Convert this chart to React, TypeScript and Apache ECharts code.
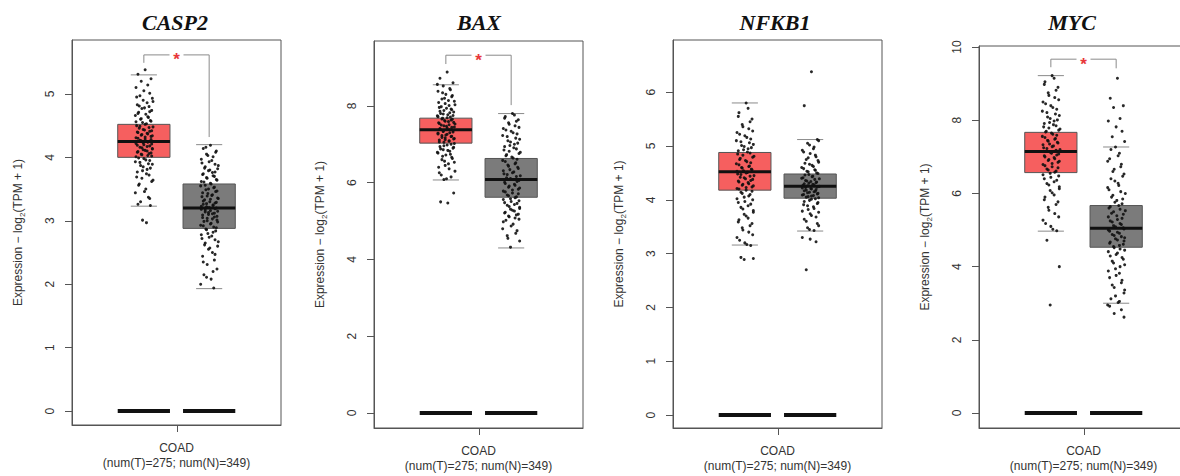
import React, { useEffect, useRef } from "react";
import * as echarts from "echarts";

// ---------- data ----------
const GENES = ["CASP2", "BAX", "NFKB1", "MYC"];
const GROUP_X = [1.1, 2.1]; // tumor, normal
const CENTER_X = 1.6;
const X_LABEL = "COAD\n(num(T)=275; num(N)=349)";
const Y_NAME = "Expression − log{sub|2}(TPM + 1)";

// [low whisker, Q1, median, Q3, high whisker]
const CASP2_T_BOX = [3.23, 4.0, 4.25, 4.52, 5.3];
const CASP2_N_BOX = [1.93, 2.88, 3.2, 3.58, 4.2];
const BAX_T_BOX = [6.07, 7.03, 7.38, 7.68, 8.55];
const BAX_N_BOX = [4.3, 5.62, 6.08, 6.63, 7.8];
const NFKB1_T_BOX = [3.16, 4.18, 4.52, 4.88, 5.8];
const NFKB1_N_BOX = [3.42, 4.03, 4.25, 4.48, 5.12];
const MYC_T_BOX = [4.97, 6.57, 7.15, 7.67, 9.22];
const MYC_N_BOX = [3.0, 4.53, 5.05, 5.67, 7.27];

// jittered sample values (read from the dot clouds)
const CASP2_T_PTS = [5.38, 5.31, 5.24, 5.2, 5.14, 5.1, 5.05, 5.01, 4.97, 4.93, 4.9, 4.86, 4.83, 4.8, 4.77, 4.74, 4.71, 4.68, 4.66, 4.63, 4.6, 4.58, 4.55, 4.53, 4.5, 4.48, 4.46, 4.43, 4.41, 4.39, 4.37, 4.35, 4.33, 4.31, 4.29, 4.27, 4.25, 4.23, 4.21, 4.19, 4.17, 4.15, 4.13, 4.11, 4.09, 4.07, 4.05, 4.03, 4.01, 3.98, 3.95, 3.92, 3.89, 3.85, 3.81, 3.77, 3.72, 3.67, 3.62, 3.56, 3.5, 3.44, 3.37, 3.3, 3.24, 3.01, 2.97,
  4.95, 4.88, 4.81, 4.78, 4.72, 4.69, 4.64, 4.61, 4.57, 4.56, 4.52, 4.49, 4.47, 4.44, 4.42, 4.4, 4.38, 4.36, 4.34, 4.32, 4.3, 4.28, 4.26, 4.24, 4.22, 4.2, 4.18, 4.16, 4.14, 4.12, 4.1, 4.08, 4.06, 4.04, 4.02, 3.99, 3.96, 3.93, 3.9, 3.87, 3.83, 3.79, 3.74, 3.69, 3.64, 3.58, 3.46, 3.35, 3.26];
const CASP2_N_PTS = [4.19, 4.14, 4.1, 4.05, 4.01, 3.97, 3.93, 3.89, 3.85, 3.82, 3.79, 3.76, 3.73, 3.7, 3.67, 3.64, 3.61, 3.58, 3.55, 3.52, 3.49, 3.46, 3.43, 3.4, 3.38, 3.35, 3.33, 3.3, 3.28, 3.26, 3.24, 3.22, 3.2, 3.18, 3.16, 3.14, 3.12, 3.1, 3.07, 3.05, 3.03, 3.0, 2.98, 2.95, 2.92, 2.89, 2.86, 2.82, 2.78, 2.74, 2.7, 2.65, 2.6, 2.55, 2.5, 2.44, 2.38, 2.31, 2.24, 2.15, 2.08, 2.0, 1.94,
  4.16, 4.08, 4.03, 3.95, 3.91, 3.87, 3.83, 3.8, 3.77, 3.74, 3.71, 3.68, 3.65, 3.62, 3.59, 3.56, 3.53, 3.5, 3.47, 3.44, 3.41, 3.39, 3.36, 3.34, 3.31, 3.29, 3.27, 3.25, 3.23, 3.21, 3.19, 3.17, 3.15, 3.13, 3.11, 3.09, 3.06, 3.04, 3.01, 2.99, 2.96, 2.93, 2.9, 2.87, 2.84, 2.8, 2.76, 2.72, 2.67, 2.62, 2.57, 2.47, 2.35, 2.2, 2.11];
const BAX_T_PTS = [8.88, 8.72, 8.6, 8.52, 8.45, 8.38, 8.3, 8.24, 8.18, 8.12, 8.06, 8.01, 7.96, 7.92, 7.88, 7.84, 7.8, 7.77, 7.74, 7.71, 7.68, 7.65, 7.62, 7.59, 7.56, 7.53, 7.5, 7.47, 7.44, 7.41, 7.38, 7.35, 7.32, 7.29, 7.26, 7.23, 7.2, 7.17, 7.14, 7.11, 7.08, 7.05, 7.02, 6.98, 6.94, 6.9, 6.86, 6.82, 6.77, 6.72, 6.66, 6.6, 6.53, 6.45, 6.36, 6.26, 6.15, 6.08, 5.73, 5.5, 5.47,
  8.56, 8.42, 8.34, 8.27, 8.2, 8.14, 8.09, 8.03, 7.98, 7.94, 7.9, 7.86, 7.82, 7.79, 7.75, 7.72, 7.69, 7.66, 7.63, 7.6, 7.57, 7.54, 7.51, 7.48, 7.45, 7.42, 7.39, 7.36, 7.33, 7.3, 7.27, 7.24, 7.21, 7.18, 7.15, 7.12, 7.09, 7.06, 7.0, 6.96, 6.92, 6.88, 6.84, 6.79, 6.74, 6.69, 6.63, 6.56, 6.49, 6.4, 6.3, 6.2, 6.1];
const BAX_N_PTS = [7.8, 7.72, 7.64, 7.56, 7.48, 7.41, 7.34, 7.27, 7.2, 7.13, 7.06, 7.0, 6.94, 6.88, 6.82, 6.76, 6.7, 6.64, 6.58, 6.52, 6.46, 6.4, 6.34, 6.28, 6.23, 6.18, 6.13, 6.08, 6.03, 5.98, 5.93, 5.88, 5.83, 5.78, 5.73, 5.68, 5.63, 5.58, 5.53, 5.48, 5.43, 5.38, 5.33, 5.28, 5.23, 5.18, 5.13, 5.08, 4.98, 4.87, 4.75, 4.62, 4.48, 4.32,
  7.76, 7.68, 7.6, 7.52, 7.44, 7.37, 7.3, 7.23, 7.16, 7.09, 7.03, 6.97, 6.91, 6.85, 6.79, 6.73, 6.67, 6.61, 6.55, 6.49, 6.43, 6.37, 6.31, 6.26, 6.21, 6.16, 6.11, 6.06, 6.01, 5.96, 5.91, 5.86, 5.81, 5.76, 5.71, 5.66, 5.61, 5.56, 5.51, 5.46, 5.41, 5.36, 5.31, 5.26, 5.21, 5.16, 5.11, 5.05, 5.02, 4.92, 4.8, 4.68, 4.55];
const NFKB1_T_PTS = [5.8, 5.62, 5.5, 5.4, 5.32, 5.25, 5.19, 5.13, 5.08, 5.03, 4.99, 4.95, 4.91, 4.87, 4.83, 4.79, 4.75, 4.71, 4.67, 4.63, 4.6, 4.57, 4.54, 4.51, 4.48, 4.45, 4.42, 4.39, 4.36, 4.33, 4.3, 4.27, 4.24, 4.21, 4.18, 4.14, 4.1, 4.05, 4.0, 3.95, 3.89, 3.83, 3.77, 3.7, 3.63, 3.56, 3.48, 3.4, 3.3, 3.2, 3.15, 2.93, 2.91, 2.89,
  5.7, 5.55, 5.45, 5.36, 5.28, 5.22, 5.16, 5.1, 5.06, 5.01, 4.97, 4.93, 4.89, 4.85, 4.81, 4.77, 4.73, 4.69, 4.65, 4.62, 4.59, 4.56, 4.53, 4.5, 4.47, 4.44, 4.41, 4.38, 4.35, 4.32, 4.29, 4.26, 4.23, 4.2, 4.16, 4.12, 4.07, 4.02, 3.97, 3.92, 3.86, 3.8, 3.73, 3.66, 3.59, 3.52, 3.44, 3.35, 3.25, 3.17];
const NFKB1_N_PTS = [6.38, 5.75, 5.12, 5.05, 4.98, 4.92, 4.86, 4.8, 4.75, 4.7, 4.66, 4.62, 4.58, 4.55, 4.52, 4.49, 4.46, 4.43, 4.4, 4.38, 4.35, 4.33, 4.31, 4.29, 4.27, 4.25, 4.23, 4.21, 4.19, 4.17, 4.15, 4.13, 4.11, 4.09, 4.07, 4.05, 4.02, 3.99, 3.95, 3.91, 3.87, 3.82, 3.77, 3.71, 3.64, 3.56, 3.48, 3.43, 3.3, 3.27, 3.22, 2.7,
  5.1, 5.02, 4.95, 4.89, 4.83, 4.78, 4.73, 4.68, 4.64, 4.6, 4.56, 4.53, 4.5, 4.47, 4.44, 4.41, 4.39, 4.36, 4.34, 4.32, 4.3, 4.28, 4.26, 4.24, 4.22, 4.2, 4.18, 4.16, 4.14, 4.12, 4.1, 4.08, 4.06, 4.04, 4.01, 3.97, 3.93, 3.89, 3.84, 3.79, 3.74, 3.68, 3.6, 3.52, 3.45];
const MYC_T_PTS = [9.22, 9.05, 8.9, 8.75, 8.62, 8.5, 8.4, 8.3, 8.21, 8.13, 8.05, 7.98, 7.91, 7.85, 7.79, 7.73, 7.68, 7.62, 7.56, 7.5, 7.45, 7.4, 7.35, 7.3, 7.25, 7.2, 7.15, 7.1, 7.05, 7.0, 6.95, 6.9, 6.85, 6.79, 6.73, 6.67, 6.61, 6.55, 6.48, 6.4, 6.32, 6.23, 6.13, 6.02, 5.9, 5.77, 5.62, 5.45, 5.27, 5.1, 4.98, 4.72, 4.0, 2.95,
  9.15, 8.98, 8.82, 8.68, 8.56, 8.45, 8.35, 8.25, 8.17, 8.09, 8.01, 7.94, 7.88, 7.82, 7.76, 7.7, 7.65, 7.59, 7.53, 7.48, 7.43, 7.38, 7.33, 7.28, 7.23, 7.18, 7.13, 7.08, 7.03, 6.98, 6.93, 6.88, 6.82, 6.76, 6.7, 6.64, 6.58, 6.51, 6.44, 6.36, 6.27, 6.18, 6.08, 5.96, 5.83, 5.7, 5.54, 5.36, 5.18, 5.02];
const MYC_N_PTS = [9.15, 8.6, 8.4, 8.35, 8.05, 7.98, 7.82, 7.7, 7.55, 7.42, 7.27, 7.1, 6.95, 6.8, 6.66, 6.53, 6.4, 6.28, 6.16, 6.05, 5.95, 5.85, 5.76, 5.67, 5.6, 5.53, 5.46, 5.39, 5.32, 5.25, 5.18, 5.12, 5.06, 5.0, 4.94, 4.88, 4.82, 4.76, 4.7, 4.64, 4.58, 4.52, 4.45, 4.37, 4.29, 4.2, 4.1, 4.0, 3.88, 3.76, 3.63, 3.5, 3.36, 3.2, 3.05, 2.92, 2.82, 2.72, 2.62,
  7.2, 7.03, 6.88, 6.73, 6.6, 6.47, 6.34, 6.22, 6.1, 6.0, 5.9, 5.81, 5.72, 5.64, 5.57, 5.5, 5.43, 5.36, 5.29, 5.22, 5.15, 5.09, 5.03, 4.97, 4.91, 4.85, 4.79, 4.73, 4.67, 4.61, 4.55, 4.48, 4.41, 4.33, 4.25, 4.15, 4.05, 3.94, 3.82, 3.7, 3.56, 3.43, 3.28, 3.12, 3.02, 2.95];

// horizontal jitter offsets (x units)
const JITTER = [0.02, -0.09, 0.11, -0.04, 0.06, -0.12, 0.0, 0.09, -0.06, 0.13, -0.01, 0.05, -0.1, 0.08, -0.03, 0.12, -0.08, 0.03, -0.13, 0.07, -0.05, 0.1, -0.02, 0.04, -0.11, 0.14, -0.07, 0.01, 0.09, -0.09, 0.06, -0.04, 0.11, -0.12, 0.02, -0.06, 0.08, -0.01, 0.12, -0.1, 0.05, -0.03, 0.13];

const ZERO_LEVEL = [0, 0];

const Y_MIN = [-0.22, -0.39, -0.24, -0.41];
const Y_MAX = [5.85, 9.69, 6.97, 10.03];
const Y_TICKS = [
  [0, 1, 2, 3, 4, 5],
  [0, 2, 4, 6, 8],
  [0, 1, 2, 3, 4, 5, 6],
  [0, 2, 4, 6, 8, 10],
];
// significance bracket: [top, left leg end, right leg end] (null = none)
const BRACKETS: (number[] | null)[] = [
  [5.615, 5.49, 4.32],
  [9.32, 9.09, 8.02],
  null,
  [9.67, 9.45, 9.42],
];

const BOXES = [
  [CASP2_T_BOX, CASP2_N_BOX],
  [BAX_T_BOX, BAX_N_BOX],
  [NFKB1_T_BOX, NFKB1_N_BOX],
  [MYC_T_BOX, MYC_N_BOX],
];
const POINTS = [
  [CASP2_T_PTS, CASP2_N_PTS],
  [BAX_T_PTS, BAX_N_PTS],
  [NFKB1_T_PTS, NFKB1_N_PTS],
  [MYC_T_PTS, MYC_N_PTS],
];

// ---------- layout / style ----------
const GRID_LEFT = [72, 374, 673, 979];
const GRID_TOP = [40, 41, 40, 46];
const GRID_H = [385, 387, 388, 382];
const GRID_W = 209;
const TITLE_X = [175, 479, 775, 1072];
const FILLS = ["#F65F5F", "#7B7B7B"];
const SANS = "'Liberation Sans', Arial, sans-serif";
const TICK_LEN = 7;

function buildOption() {
  const grid: any[] = [];
  const xAxis: any[] = [];
  const yAxis: any[] = [];
  const series: any[] = [];
  const graphic: any[] = [];

  GENES.forEach((gene, i) => {
    grid.push({
      left: GRID_LEFT[i],
      top: GRID_TOP[i],
      width: GRID_W,
      height: GRID_H[i],
      show: true,
      borderColor: "#555",
      borderWidth: 1,
      backgroundColor: "transparent",
      outerBoundsMode: "none",
      containLabel: false,
    });
    xAxis.push({
      type: "value",
      gridIndex: i,
      min: 0,
      max: 3.2,
      axisLine: { show: true, onZero: false, lineStyle: { color: "#555", width: 1 } },
      splitLine: { show: false },
      axisTick: { show: false },
      axisLabel: {
        customValues: [CENTER_X],
        formatter: () => X_LABEL,
        fontFamily: SANS,
        fontSize: 12,
        lineHeight: 15,
        color: "#333",
        margin: 15,
      },
    });
    yAxis.push({
      type: "value",
      gridIndex: i,
      min: Y_MIN[i],
      max: Y_MAX[i],
      axisLine: { show: true, onZero: false, lineStyle: { color: "#555", width: 1 } },
      splitLine: { show: false },
      axisTick: { show: true, customValues: Y_TICKS[i], length: TICK_LEN, lineStyle: { color: "#555", width: 1 } },
      axisLabel: {
        customValues: Y_TICKS[i],
        rotate: 90,
        margin: 16,
        fontFamily: SANS,
        fontSize: 12,
        color: "#333",
      },
      name: Y_NAME,
      nameLocation: "middle",
      nameRotate: 90,
      nameGap: 46,
      nameTextStyle: {
        fontFamily: SANS,
        fontSize: 12,
        color: "#333",
        lineHeight: 16,
        rich: { sub: { fontSize: 8, fontFamily: SANS, color: "#333", verticalAlign: "bottom", lineHeight: 10 } },
      },
    });

    // x-axis centre tick (category tick below the frame)
    series.push({
      type: "custom",
      xAxisIndex: i,
      yAxisIndex: i,
      z: 2,
      clip: false,
      data: [[CENTER_X, Y_MIN[i]]],
      renderItem: (_p: any, api: any) => {
        const p = api.coord([api.value(0), api.value(1)]);
        return {
          type: "line",
          shape: { x1: Math.round(p[0]) + 0.5, y1: p[1], x2: Math.round(p[0]) + 0.5, y2: p[1] + TICK_LEN },
          style: { stroke: "#555", lineWidth: 1 },
        };
      },
    });

    // zero-level bars
    series.push({
      type: "custom",
      xAxisIndex: i,
      yAxisIndex: i,
      z: 2,
      data: GROUP_X.map((x, g) => [x, ZERO_LEVEL[g]]),
      renderItem: (_p: any, api: any) => {
        const x = api.value(0);
        const y = api.value(1);
        const a = api.coord([x - 0.4, y]);
        const b = api.coord([x + 0.4, y]);
        return {
          type: "line",
          shape: { x1: a[0], y1: a[1], x2: b[0], y2: b[1] },
          style: { stroke: "#111", lineWidth: 4 },
        };
      },
    });

    // boxes
    series.push({
      type: "custom",
      xAxisIndex: i,
      yAxisIndex: i,
      z: 2,
      data: GROUP_X.map((x, g) => [x, ...BOXES[i][g], g]),
      renderItem: (_p: any, api: any) => {
        const x = api.value(0);
        const lo = api.value(1), q1 = api.value(2), med = api.value(3), q3 = api.value(4), hi = api.value(5);
        const g = api.value(6);
        const tl = api.coord([x - 0.4, q3]);
        const br = api.coord([x + 0.4, q1]);
        const mL = api.coord([x - 0.4, med]);
        const mR = api.coord([x + 0.4, med]);
        const cL1 = api.coord([x - 0.2, lo]);
        const cR1 = api.coord([x + 0.2, lo]);
        const cL2 = api.coord([x - 0.2, hi]);
        const cR2 = api.coord([x + 0.2, hi]);
        return {
          type: "group",
          children: [
            { type: "line", shape: { x1: cL1[0], y1: cL1[1], x2: cR1[0], y2: cR1[1] }, style: { stroke: "#8a8a8a", lineWidth: 1 } },
            { type: "line", shape: { x1: cL2[0], y1: cL2[1], x2: cR2[0], y2: cR2[1] }, style: { stroke: "#8a8a8a", lineWidth: 1 } },
            {
              type: "rect",
              shape: { x: tl[0], y: tl[1], width: br[0] - tl[0], height: br[1] - tl[1] },
              style: { fill: FILLS[g], stroke: "#555", lineWidth: 1 },
            },
            { type: "line", shape: { x1: mL[0], y1: mL[1], x2: mR[0], y2: mR[1] }, style: { stroke: "#111", lineWidth: 3 } },
          ],
        };
      },
    });

    // jittered points
    GROUP_X.forEach((x, g) => {
      series.push({
        type: "scatter",
        xAxisIndex: i,
        yAxisIndex: i,
        z: 3,
        symbol: "circle",
        symbolSize: 3,
        itemStyle: { color: "#111", opacity: 0.9 },
        data: POINTS[i][g].map((v, k) => [x + JITTER[k % JITTER.length], v]),
      });
    });

    // significance bracket
    const br = BRACKETS[i];
    if (br) {
      series.push({
        type: "custom",
        xAxisIndex: i,
        yAxisIndex: i,
        z: 4,
        data: [[GROUP_X[0], GROUP_X[1], br[0], br[1], br[2]]],
        renderItem: (_p: any, api: any) => {
          const x1 = api.value(0), x2 = api.value(1);
          const top = api.value(2), l = api.value(3), r = api.value(4);
          const pl = api.coord([x1, l]);
          const plt = api.coord([x1, top]);
          const prt = api.coord([x2, top]);
          const pr = api.coord([x2, r]);
          const cx = (plt[0] + prt[0]) / 2;
          const st = { stroke: "#8a8a8a", lineWidth: 1, fill: null };
          return {
            type: "group",
            children: [
              { type: "polyline", shape: { points: [pl, plt, [cx - 7, plt[1]]] }, style: st },
              { type: "polyline", shape: { points: [[cx + 7, prt[1]], prt, pr] }, style: st },
              {
                type: "text",
                x: cx,
                y: plt[1] + 5,
                style: { text: "*", fill: "#E8373A", font: `bold 17px ${SANS}`, align: "center", verticalAlign: "middle" },
              },
            ],
          };
        },
      });
    }

    graphic.push({
      type: "text",
      x: TITLE_X[i],
      y: 22,
      style: {
        text: gene,
        font: "italic bold 22px 'Liberation Serif', 'Times New Roman', serif",
        fill: "#111",
        align: "center",
        verticalAlign: "middle",
      },
    });
  });

  return {
    animation: false,
    backgroundColor: "#fff",
    grid,
    xAxis,
    yAxis,
    series,
    graphic,
  };
}

export default function App() {
  const ref = useRef<HTMLDivElement>(null);
  useEffect(() => {
    if (!ref.current) return;
    const chart = echarts.init(ref.current, undefined, { renderer: "svg" });
    chart.setOption(buildOption());
    return () => chart.dispose();
  }, []);
  return (
    <div
      ref={ref}
      style={{ position: "fixed", left: 0, top: 0, width: 1180, height: 476, background: "#fff" }}
    />
  );
}
